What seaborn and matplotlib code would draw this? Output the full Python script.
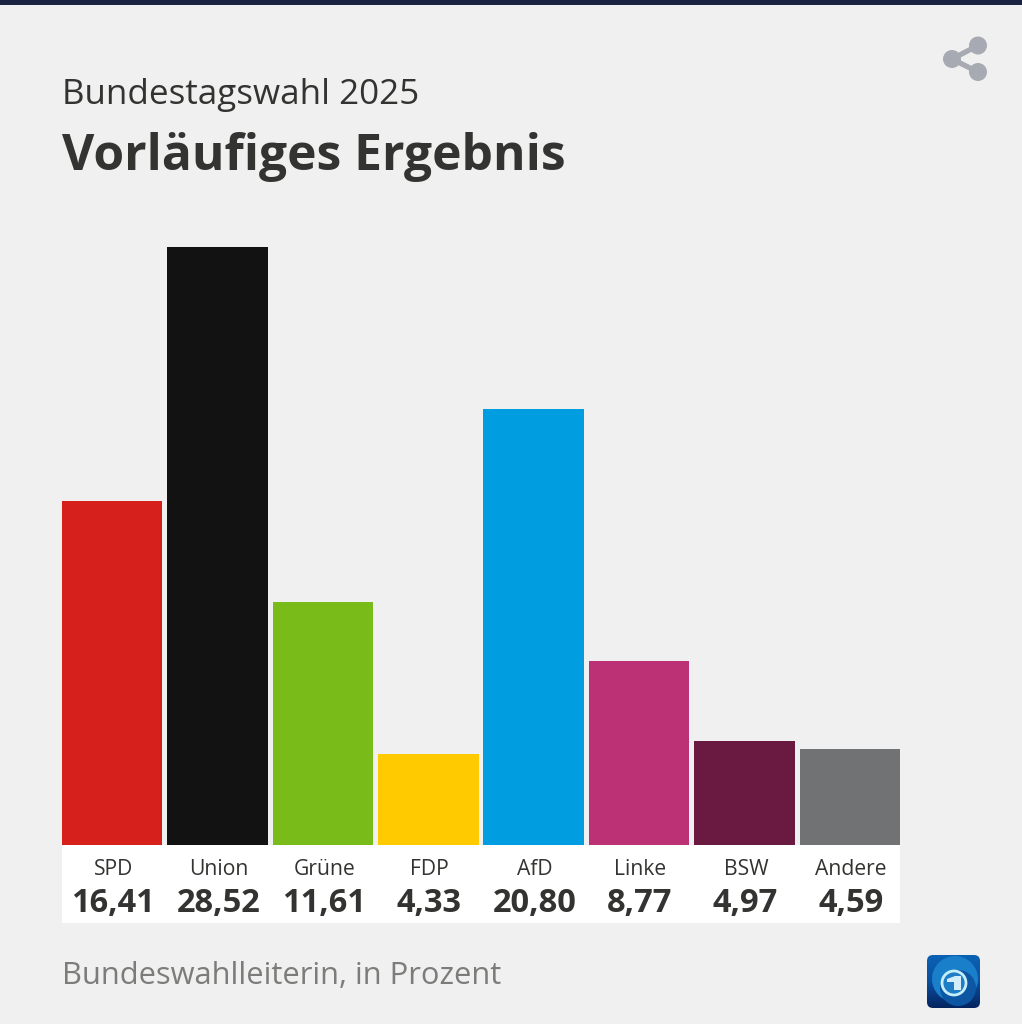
import matplotlib
matplotlib.use("Agg")
import matplotlib.pyplot as plt
import numpy as np
import pandas as pd
import seaborn as sns
from matplotlib.patches import Circle, FancyBboxPatch, Polygon, Rectangle
from matplotlib.transforms import ScaledTranslation

# Daten
parteien = ["SPD", "Union", "Grüne", "FDP", "AfD", "Linke", "BSW", "Andere"]
prozent = [16.41, 28.52, 11.61, 4.33, 20.80, 8.77, 4.97, 4.59]
farben = ["#d6201c", "#121212", "#79bc1a", "#ffcb00", "#009ee0", "#bc3176", "#6a1a40", "#717274"]
titel_oben = "Bundestagswahl 2025"
titel = "Vorläufiges Ergebnis"
quelle = "Bundeswahlleiterin, in Prozent"

W, H = 1022, 1024
BG = "#f0f0f0"
TEXT = "#333331"

sns.set_theme(style="white")
plt.rcParams["font.family"] = ["Open Sans", "DejaVu Sans"]

df = pd.DataFrame({"partei": parteien, "prozent": prozent})

fig = plt.figure(figsize=(W / 100, H / 100), dpi=100, facecolor=BG)

# Hintergrund-Ebene in Pixelkoordinaten
bg = fig.add_axes([0, 0, 1, 1], zorder=0)
bg.axis("off")

bg.add_patch(Rectangle((0, 0), W, 4.5, color="#1a2442", lw=0))
bg.add_patch(Rectangle((62, 845), 838, 78, color="white", lw=0))

bg.text(62, 95, titel_oben, fontsize=25.2, color=TEXT, va="center", ha="left")
bg.text(62, 157, titel, fontsize=35.8, color=TEXT, va="center", ha="left", fontweight="bold")
bg.text(62, 976, quelle, fontsize=22.2, color="#7c7c7a", va="center", ha="left")

# Teilen-Symbol
icon = "#a7aab3"
for x, y in [(978, 45.5), (978, 72)]:
    bg.plot([952, x], [59, y], color=icon, lw=3.8, solid_capstyle="butt")
for x, y in [(952, 59), (978, 45.5), (978, 72)]:
    bg.add_patch(Circle((x, y), 9, color=icon, lw=0))

# tagesschau-Logo
box = FancyBboxPatch((927, 955), 53, 53, boxstyle="round,pad=0,rounding_size=6",
                     facecolor="none", edgecolor="none", lw=0)
bg.add_patch(box)
verlauf = np.linspace(0, 1, 64).reshape(-1, 1)
img = bg.imshow(verlauf, extent=(927, 980, 1008, 955), cmap=matplotlib.colors.LinearSegmentedColormap.from_list(
    "logo", ["#0b62b4", "#0a4fa0", "#052560"]), aspect="auto", zorder=1)
img.set_clip_path(box)
globus = Circle((955, 979), 23, facecolor="#1a7fcb", edgecolor="none", zorder=2)
bg.add_patch(globus)
globus.set_clip_path(box)
bg.add_patch(Circle((958, 988), 18, facecolor="#0c56a4", edgecolor="none", zorder=3))
bg.add_patch(Circle((954, 983), 12, facecolor="#1f7cc6", edgecolor="#c4eef8", lw=2, zorder=4))
bg.add_patch(Polygon([(947, 979), (955, 976), (961, 976), (961, 990), (954, 990), (954, 982), (947, 982)],
                     facecolor="#d3eef8", edgecolor="none", zorder=5))

bg.set_xlim(0, W)
bg.set_ylim(H, 0)

# Balken
ax = fig.add_axes([62 / W, (H - 845) / H, 838 / W, 598 / H], zorder=1)
ax.patch.set_alpha(0)
sns.barplot(data=df, x="partei", y="prozent", hue="partei", palette=farben,
            legend=False, width=0.953, saturation=1, linewidth=0, ax=ax)
ax.set_xlim(-0.477, 7.477)
ax.set_ylim(0, 28.52)
ax.set_xlabel("")
ax.set_ylabel("")
ax.set_yticks([])
ax.tick_params(axis="x", length=0, pad=10, labelsize=15.2, labelcolor=TEXT)
sns.despine(ax=ax, left=True, bottom=True)

# Parteinamen stehen im Original etwas weiter rechts
versatz = ScaledTranslation(1.5 / 100, 0, fig.dpi_scale_trans)
for label in ax.get_xticklabels():
    label.set_transform(label.get_transform() + versatz)

for i, wert in enumerate(prozent):
    ax.annotate(f"{wert:.2f}".replace(".", ","), xy=(i, 0), xytext=(1, -59),
                textcoords="offset pixels", ha="center", va="center",
                fontsize=23.5, fontweight="bold", color=TEXT)

fig.savefig("out.png", dpi=100, facecolor=BG)
